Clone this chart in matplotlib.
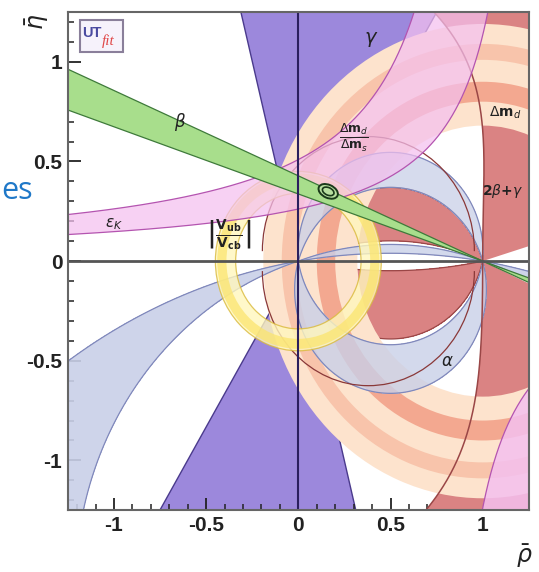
import numpy as np
import matplotlib
matplotlib.use('Agg')
import matplotlib.pyplot as plt
from matplotlib.patches import Wedge, Ellipse, Rectangle, Arc
from matplotlib.ticker import MultipleLocator

# ---------------- constraint values ----------------
gamma_deg = [59.0, 104.0]            # gamma band (deg); second solution +180
beta_tan = [0.337, 0.428]            # tan(beta) edges of the sin2beta band
alpha_upper = [85.0, 107.0]          # alpha band above the rho axis (deg)
alpha_lower = [74.0, 100.0]          # alpha band below the rho axis
alpha_wide = [9.3, 17.0]             # alpha small-angle solution (below)
alpha_flat = [161.0, 171.0]          # alpha near-axis solution (above)
bg_upper = [107.0, 157.0]            # 2beta+gamma lune above the axis
bg_lower = [104.0, 169.0]            # 2beta+gamma lune below the axis
bg_curve_up = [1.0, 0.065, -0.15]    # rho = a + b*eta^2 + c*eta^4 (eta>0)
bg_curve_dn = [1.0, -0.035, -0.104]  # same for eta<0
bg_gap_slopes = [0.30, -0.45]        # empty wedge right of (1,0)
bg_circles_center = [0.38, 0.05]     # 2beta+gamma outline arcs (+/- eta)
bg_circles_radius = 0.575
dmd_pale = [0.68, 1.19]              # Delta m_d ring radii
dmd_band1 = [0.80, 0.90]
dmd_band2 = [1.01, 1.09]
vub_95 = [0.34, 0.45]                # |Vub/Vcb| ring radii
vub_68 = [0.39, 0.44]
epsk_up = [1.06, 0.54]               # eta = c/(a - rho): (a, c)
epsk_lo = [1.30, 0.34]
epsk_br = [0.733, 0.331]             # lower-right branch
apex = [0.162, 0.35]
apex_95 = [0.11, 0.066]
apex_68 = [0.066, 0.038]
apex_angle = -22.0
ticks = [-1, -0.5, 0, 0.5, 1]
tick_labels = ['-1', '-0.5', '0', '0.5', '1']

# ---------------- colours ----------------
c_gamma, e_gamma = '#9c88dc', '#4a3a8c'
c_bg, e_bg = '#da8383', '#9a4646'
c_pale, c_band1, c_band2 = '#fde3cd', '#f3a890', '#f8c4ab'
c_alpha, e_alpha = '#c9d0e8', '#8088bb'
c_vub95, c_vub68, e_vub = '#fff7bd', '#fbe56e', '#d9b93a'
c_eps, e_eps = '#f4c0ef', '#b454b0'
c_beta, e_beta = '#a8de8c', '#3e7a3a'

fig = plt.figure(figsize=(5.39, 5.72), dpi=100)
ax = fig.add_axes([0.126, 0.108, 0.855, 0.871])
lim = 1.25
ax.set_xlim(-lim, lim)
ax.set_ylim(-lim, lim)

# gamma wedges
for t0 in (0.0, 180.0):
    ax.add_patch(Wedge((0, 0), 5, gamma_deg[0] + t0, gamma_deg[1] + t0,
                       facecolor=c_gamma, edgecolor=e_gamma, lw=1.0, zorder=1))

# angle field for alpha / 2beta+gamma type constraints
n = 900
g = np.linspace(-1.3, 1.3, n)
R, E = np.meshgrid(g, g)
with np.errstate(invalid='ignore', divide='ignore'):
    dot = R * (R - 1) + E * E
    nrm = np.hypot(R, E) * np.hypot(R - 1, E)
    TH = np.degrees(np.arccos(np.clip(dot / nrm, -1, 1)))
TH_up = np.ma.masked_where(E <= 0, TH)
TH_dn = np.ma.masked_where(E >= 0, TH)


def lune(field, rng, fc, ec, z, alpha=1.0):
    ax.contourf(R, E, field, levels=rng, colors=[fc], alpha=alpha, zorder=z)
    ax.contour(R, E, field, levels=rng, colors=[ec], linewidths=0.9, zorder=z)


# 2beta+gamma
lune(TH_up, bg_upper, c_bg, e_bg, 2)
lune(TH_dn, bg_lower, c_bg, e_bg, 2)
eu = np.linspace(0, 1.3, 200)
ru = bg_curve_up[0] + bg_curve_up[1] * eu**2 + bg_curve_up[2] * eu**4
ed = np.linspace(0, -1.3, 200)
rd = bg_curve_dn[0] + bg_curve_dn[1] * ed**2 + bg_curve_dn[2] * ed**4
xs = np.concatenate([ru[::-1], [1.3, 1.3]])
ys = np.concatenate([eu[::-1], [bg_gap_slopes[0] * 0.3, 1.3]])
ax.fill(xs, ys, facecolor=c_bg, edgecolor='none', zorder=2)
xs = np.concatenate([rd, [1.3, 1.3]])
ys = np.concatenate([ed, [-1.3, bg_gap_slopes[1] * 0.3]])
ax.fill(xs, ys, facecolor=c_bg, edgecolor='none', zorder=2)

# Delta m rings
ax.add_patch(Wedge((1, 0), dmd_pale[1], 0, 360, width=dmd_pale[1] - dmd_pale[0],
                   facecolor=c_pale, edgecolor='none', zorder=3))
for rr, cc in ((dmd_band1, c_band1), (dmd_band2, c_band2)):
    ax.add_patch(Wedge((1, 0), rr[1], 0, 360, width=rr[1] - rr[0],
                       facecolor=cc, edgecolor='none', zorder=3))

# alpha
lune(TH_up, alpha_upper, c_alpha, e_alpha, 4, 0.75)
lune(TH_dn, alpha_lower, c_alpha, e_alpha, 4, 0.8)
lune(TH_dn, alpha_wide, c_alpha, e_alpha, 4, 0.9)
lune(TH_up, alpha_flat, c_alpha, e_alpha, 4, 0.8)

# 2beta+gamma boundary curves
ax.plot(ru, eu, color=e_bg, lw=1.1, zorder=4.5)
ax.plot(rd, ed, color=e_bg, lw=1.1, zorder=4.5)
d = 2 * bg_circles_radius
ax.add_patch(Arc((bg_circles_center[0], bg_circles_center[1]), d, d,
                 theta1=0, theta2=180, edgecolor='#8a3838', lw=0.9, zorder=4.6))
ax.add_patch(Arc((bg_circles_center[0], -bg_circles_center[1]), d, d,
                 theta1=180, theta2=360, edgecolor='#8a3838', lw=0.9, zorder=4.6))

# |Vub/Vcb|
ax.add_patch(Wedge((0, 0), vub_95[1], 0, 360, width=vub_95[1] - vub_95[0],
                   facecolor=c_vub95, edgecolor=e_vub, lw=0.9, alpha=0.8, zorder=5))
ax.add_patch(Wedge((0, 0), vub_68[1], 0, 360, width=vub_68[1] - vub_68[0],
                   facecolor=c_vub68, edgecolor='none', alpha=0.75, zorder=5))

# epsilon_K
rho = np.linspace(-1.3, 1.3, 2000)
with np.errstate(divide='ignore'):
    up = np.where(rho < epsk_up[0], epsk_up[1] / (epsk_up[0] - rho), 10)
    lo = np.where(rho < epsk_lo[0], epsk_lo[1] / (epsk_lo[0] - rho), 10)
up = np.clip(up, -10, 10)
lo = np.clip(lo, -10, 10)
ax.fill_between(rho, lo, up, where=lo < up, facecolor=c_eps, edgecolor='none',
                alpha=0.72, zorder=6)
ax.plot(rho[rho < epsk_up[0]], up[rho < epsk_up[0]], color=e_eps, lw=0.9, zorder=6)
ax.plot(rho[rho < epsk_lo[0]], lo[rho < epsk_lo[0]], color=e_eps, lw=0.9, zorder=6)
rb = rho[rho > epsk_br[0] + 0.01]
cb = -epsk_br[1] / (rb - epsk_br[0])
ax.fill_between(rb, -10, cb, facecolor=c_eps, edgecolor='none', alpha=0.85, zorder=6)
ax.plot(rb, cb, color=e_eps, lw=0.9, zorder=6)

# beta
b1 = beta_tan[0] * (1 - rho)
b2 = beta_tan[1] * (1 - rho)
ax.fill_between(rho, b1, b2, facecolor=c_beta, edgecolor='none', zorder=7)
ax.plot(rho, b1, color=e_beta, lw=0.9, zorder=7)
ax.plot(rho, b2, color=e_beta, lw=0.9, zorder=7)

# axes lines
ax.axhline(0, color='#555555', lw=2.0, zorder=8)
ax.axvline(0, color='#2b1f5e', lw=1.5, zorder=8)

# apex contours
ax.add_patch(Ellipse(apex, apex_95[0], apex_95[1], angle=apex_angle,
                     facecolor='#b8e0a0', edgecolor='#1a3a1a', lw=1.4, zorder=9))
ax.add_patch(Ellipse(apex, apex_68[0], apex_68[1], angle=apex_angle,
                     facecolor='none', edgecolor='#1a3a1a', lw=1.2, zorder=9))

# labels
tk = dict(color='#222222', zorder=10, ha='center', va='center')
ax.text(0.395, 1.11, r'$\gamma$', fontsize=14, **tk)
ax.text(-0.64, 0.70, r'$\beta$', fontsize=12, **tk)
ax.text(0.81, -0.50, r'$\alpha$', fontsize=12, **tk)
ax.text(1.12, 0.745, r'$\Delta\mathbf{m}_d$', fontsize=10, **tk)
ax.text(0.30, 0.62, r'$\frac{\Delta\mathbf{m}_d}{\Delta\mathbf{m}_s}$', fontsize=13, **tk)
ax.text(1.11, 0.35, r'$\mathbf{2}\beta\mathbf{+}\gamma$', fontsize=10, **tk)
ax.text(-1.0, 0.185, r'$\varepsilon_K$', fontsize=11, **tk)
ax.text(-0.38, 0.135, r'$\left|\frac{\mathbf{V_{ub}}}{\mathbf{V_{cb}}}\right|$',
        fontsize=14, **tk)

# UTfit logo
ax.add_patch(Rectangle((0.026, 0.92), 0.093, 0.064, transform=ax.transAxes,
                       facecolor='#f6f2fb', edgecolor='#8a7f9a', lw=1.5, zorder=11))
ax.text(0.031, 0.958, 'UT', transform=ax.transAxes, fontsize=10.5, fontweight='bold',
        color='#4a4aa0', va='center', ha='left', zorder=12, family='Liberation Sans')
ax.text(0.073, 0.942, 'fit', transform=ax.transAxes, fontsize=11, style='italic',
        color='#e04848', va='center', ha='left', zorder=12, family='Liberation Serif')

# ticks / frame
ax.set_xticks(ticks)
ax.set_xticklabels(tick_labels)
ax.set_yticks(ticks)
ax.set_yticklabels(tick_labels)
ax.xaxis.set_minor_locator(MultipleLocator(0.1))
ax.yaxis.set_minor_locator(MultipleLocator(0.1))
ax.tick_params(which='major', direction='in', length=9, width=1.3, pad=4,
               top=False, right=False, colors='#222222')
ax.tick_params(which='minor', direction='in', length=4.5, width=1.1,
               top=False, right=False, colors='#222222')
for lab in ax.get_xticklabels() + ax.get_yticklabels():
    lab.set_fontfamily('Liberation Sans')
    lab.set_fontweight('bold')
    lab.set_fontsize(15)
for s in ax.spines.values():
    s.set_color('#666666')
    s.set_linewidth(1.5)
    s.set_zorder(12)

fig.text(0.069, 0.962, r'$\bar{\eta}$', rotation=90, fontsize=17,
         ha='center', va='center', color='#222222')
fig.text(0.972, 0.028, r'$\bar{\rho}$', fontsize=17, ha='center', va='center',
         color='#222222')
fig.text(0.002, 0.652, 'es', fontsize=22, color='#1f78c8', family='Open Sans',
         ha='left', va='baseline')

fig.savefig('out.png', dpi=100)
